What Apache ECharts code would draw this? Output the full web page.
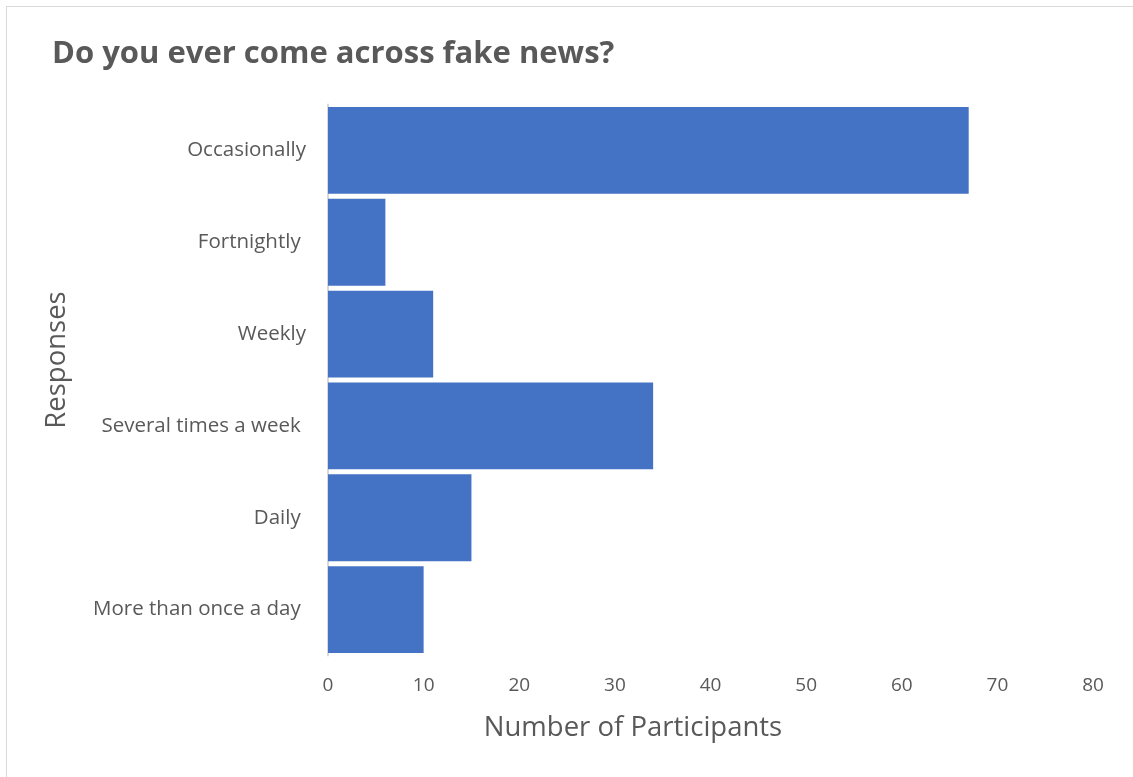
<!DOCTYPE html>
<html>
<head>
<meta charset="utf-8">
<script src="https://cdn.jsdelivr.net/npm/echarts@6/dist/echarts.min.js"></script>
<style>
  html, body { margin: 0; padding: 0; background: #fff; }
  #frame { position: absolute; left: 6px; top: 6px; width: 1127px; height: 771px;
           border-top: 1.5px solid #d9d9d9; border-left: 1.5px solid #d9d9d9; box-sizing: border-box; }
  #chart { position: absolute; left: 0; top: 0; width: 1133px; height: 777px; }
</style>
</head>
<body>
<div id="frame"></div>
<div id="chart"></div>
<script>
// Survey responses, listed bottom to top as drawn on the category axis
const categories = ['More than once a day ', 'Daily ', 'Several times a week ', 'Weekly', 'Fortnightly ', 'Occasionally'];
const participants = [10, 15, 34, 11, 6, 67];
const xTicks = { min: 0, max: 80, interval: 10 };

const chart = echarts.init(document.getElementById('chart'), null, { renderer: 'canvas' });
const textColor = '#595959';
const font = '"Open Sans", Lato, sans-serif';

chart.setOption({
  animation: false,
  backgroundColor: 'transparent',
  title: {
    text: 'Do you ever come across fake news?',
    left: 47, top: 34,
    textStyle: { fontFamily: font, fontSize: 31, fontWeight: 'bold', color: textColor }
  },
  grid: { left: 328, right: 40, top: 104.5, bottom: 121.5, containLabel: false },
  xAxis: {
    type: 'value',
    min: xTicks.min, max: xTicks.max, interval: xTicks.interval,
    axisLine: { show: false }, axisTick: { show: false },
    splitLine: { show: false },
    axisLabel: { fontFamily: font, fontSize: 19, color: textColor, margin: 21 }
  },
  yAxis: {
    type: 'category',
    data: categories,
    axisLine: { show: true, lineStyle: { color: '#d9d9d9', width: 2 } },
    axisTick: { show: false },
    axisLabel: { fontFamily: font, fontSize: 20.5, color: textColor, margin: 22 }
  },
  // axis titles
  graphic: [
    {
      type: 'text', x: 633, y: 728,
      style: { text: 'Number of Participants', font: '27.5px ' + font, fill: textColor, align: 'center', verticalAlign: 'middle' }
    },
    {
      type: 'text', x: 57, y: 360, rotation: Math.PI / 2,
      style: { text: 'Responses', font: '27.5px ' + font, fill: textColor, align: 'center', verticalAlign: 'middle' }
    }
  ],
  series: [{
    type: 'bar',
    data: participants,
    barCategoryGap: '5.5%',
    itemStyle: { color: '#4472c4' }
  }]
});
</script>
</body>
</html>
